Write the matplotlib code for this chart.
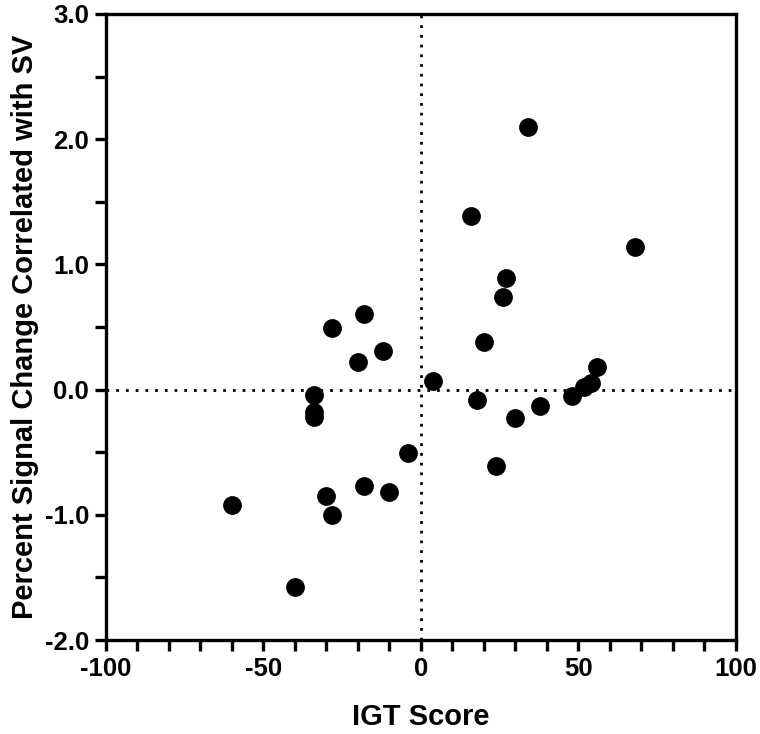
import matplotlib
matplotlib.use("Agg")
import matplotlib.pyplot as plt
from matplotlib.ticker import MultipleLocator, FormatStrFormatter

plt.rcParams['font.family'] = ['Liberation Sans', 'DejaVu Sans']
plt.rcParams['font.weight'] = 'bold'
plt.rcParams['axes.unicode_minus'] = False

# IGT score vs percent signal change
igt = [-60, -40, -34, -34, -34, -30, -28, -28, -18, -20, -18, -12, -10, -4,
       4, 16, 18, 20, 24, 26, 27, 30, 34, 38, 48, 52, 54, 56, 68]
psc = [-0.92, -1.58, -0.04, -0.18, -0.22, -0.85, -1.00, 0.49, 0.60, 0.22,
       -0.77, 0.31, -0.82, -0.51, 0.07, 1.39, -0.08, 0.38, -0.61, 0.74,
       0.89, -0.23, 2.10, -0.13, -0.05, 0.02, 0.05, 0.18, 1.14]

fig = plt.figure(figsize=(7.6, 7.34), dpi=100)
ax = fig.add_axes([0.139, 0.128, 0.829, 0.853])

ax.axhline(0, color='black', lw=2, ls=(0, (1, 2.5)), zorder=1)
ax.axvline(0, color='black', lw=2, ls=(0, (1, 2.5)), zorder=1)
ax.plot(igt, psc, 'o', color='black', ms=12.5, zorder=3)

ax.set_xlim(-100, 100)
ax.set_ylim(-2.0, 3.0)
ax.xaxis.set_major_locator(MultipleLocator(50))
ax.xaxis.set_minor_locator(MultipleLocator(10))
ax.yaxis.set_major_locator(MultipleLocator(1.0))
ax.yaxis.set_minor_locator(MultipleLocator(0.5))
ax.yaxis.set_major_formatter(FormatStrFormatter('%.1f'))

for s in ax.spines.values():
    s.set_linewidth(2.4)
ax.tick_params(which='major', length=8, width=2.4, labelsize=18.5, direction='out', pad=4)
ax.tick_params(which='minor', length=8, width=2.4, direction='out')

ax.set_xlabel('IGT Score', fontsize=21, fontweight='bold', labelpad=16)
ax.set_ylabel('Percent Signal Change Correlated with SV', fontsize=21,
              fontweight='bold', labelpad=4)

fig.savefig('out.png', dpi=100)
